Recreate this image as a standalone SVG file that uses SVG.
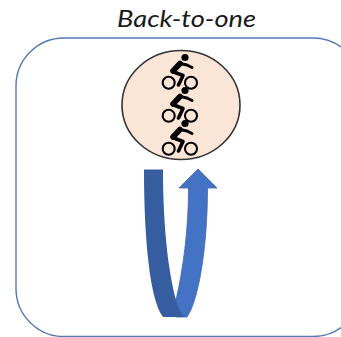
<svg xmlns="http://www.w3.org/2000/svg" width="341" height="337" viewBox="0 0 341 337">
<style>
.title{font-family:Lato,"Open Sans",sans-serif;font-style:italic;font-size:24px;fill:#1a1a1a}
.wheel{fill:none;stroke:#000;stroke-width:2.1}
.body{fill:none;stroke:#000;stroke-linejoin:round;stroke-linecap:round}
</style>
<defs>
<g id="rider">
<circle cx="185" cy="57.500" r="3.600" fill="#000"/>
<circle class="wheel" cx="168.700" cy="82.700" r="6"/>
<circle class="wheel" cx="191" cy="82.700" r="6"/>
<path class="body" stroke-width="5.500" d="M173 71L180 63.500"/>
<path class="body" stroke-width="3" d="M180 63.500L187 65L192 67.500"/>
<path class="body" stroke-width="3.600" d="M172.500 71.500L183 75.500L178.500 85"/>
</g>
</defs>
<text class="title" x="117" y="26.500" textLength="139" lengthAdjust="spacingAndGlyphs">Back-to-one</text>
<rect id="frame" x="16" y="38" width="345" height="298.500" rx="48" ry="48" fill="#fff" stroke="#5578b4" stroke-width="1.400"/>
<g id="group-circle">
<ellipse cx="181" cy="105" rx="59" ry="54.500" fill="#fae5d6" stroke="#333" stroke-width="1.600"/>
<use href="#rider"/>
<use href="#rider" y="33"/>
<use href="#rider" y="66"/>
</g>
<g id="connectors">
<path fill="#4472c4" stroke="#3f68b0" stroke-width=".8" d="M198 169L217 188H207.500C207.500 245 199 300 187 317H176C170 315 176 306 176 300C183 270 188.500 230 188.500 188H179Z"/>
<path fill="#355d9f" d="M144 169.500H163C163 225 168 270 176 300C178 308 181 314 185 317H163C150 300 144 240 144 169.500Z"/>
</g>
</svg>
